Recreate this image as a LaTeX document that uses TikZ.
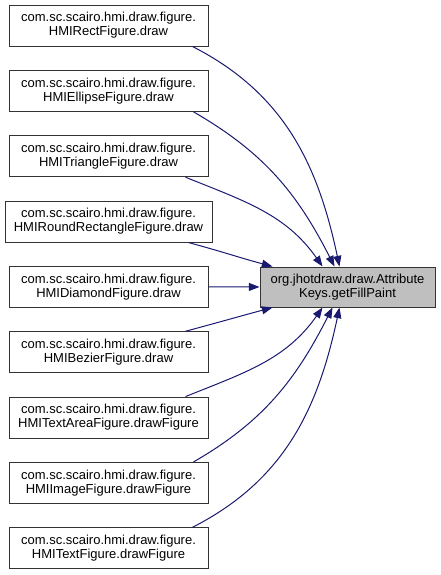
\documentclass[tikz,border=0pt]{standalone}
\usepackage{fontspec}
\setmainfont{Liberation Sans}
\usetikzlibrary{arrows.meta}
\definecolor{edg}{HTML}{191970}
\definecolor{hit}{HTML}{BFBFBF}
\tikzset{
  fn/.style={draw=black!80, line width=0.75pt, minimum height=30.75pt, inner sep=1pt, align=center},
  lnk/.style={edg, line width=0.75pt, -{Triangle[length=8pt,width=6pt]}}}
\begin{document}
\begin{tikzpicture}[x=0.75pt, y=-0.75pt, font=\fontsize{9.75}{10.5}\selectfont]
\useasboundingbox (0,0) rectangle (441,575);
\node[fn, fill=hit, minimum width=131.25pt, minimum height=30pt] (tgt) at (347.5,287) {org.jhotdraw.draw.Attribute\\Keys.getFillPaint};
\foreach \t/\w [count=\i] in {RectFigure.draw/149.25, EllipseFigure.draw/149.25, TriangleFigure.draw/149.25, RoundRectangleFigure.draw/155.25, DiamondFigure.draw/149.25, BezierFigure.draw/149.25, TextAreaFigure.drawFigure/149.25, ImageFigure.drawFigure/149.25, TextFigure.drawFigure/149.25}
  \node[fn, minimum width=\w pt] (b\i) at (108.5,{25.5+65.35*(\i-1)}) {com.sc.scairo.hmi.draw.figure.\\HMI\t};
% callers above the target
\foreach \i/\s/\e/\o/\n in {1/12/60/-27/102, 2/11.25/56.25/-30/117, 3/17.25/47.25/-22/125, 4/18/9.75/-15/165}
  \draw[lnk] ([xshift=-\s pt]b\i.south east) to[out=\o, in=\n] ([xshift=\e pt]tgt.north west);
\draw[lnk] (b5) -- (tgt);
% callers below the target
\foreach \i/\s/\e/\o/\n in {6/17.25/9.75/15/-165, 7/17.25/47.25/22/-125, 8/11.25/54.75/30/-117, 9/12/60/27/-102}
  \draw[lnk] ([xshift=-\s pt]b\i.north east) to[out=\o, in=\n] ([xshift=\e pt]tgt.south west);
\end{tikzpicture}
\end{document}
